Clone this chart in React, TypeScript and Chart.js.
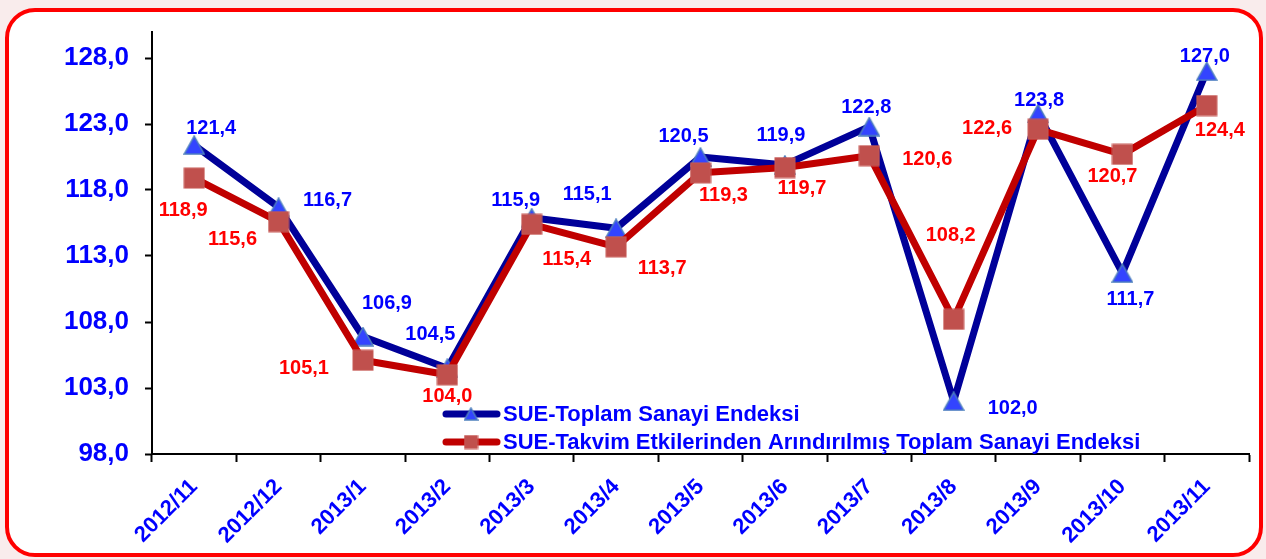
import React, { useEffect, useRef } from 'react';
import { Chart, registerables } from 'chart.js';

Chart.register(...registerables);

// ---------- data ----------
const categories = [
  '2012/11', '2012/12', '2013/1', '2013/2', '2013/3', '2013/4', '2013/5',
  '2013/6', '2013/7', '2013/8', '2013/9', '2013/10', '2013/11',
];
const toplamValues = [121.4, 116.7, 106.9, 104.5, 115.9, 115.1, 120.5, 119.9, 122.8, 102.0, 123.8, 111.7, 127.0];
const takvimValues = [118.9, 115.6, 105.1, 104.0, 115.4, 113.7, 119.3, 119.7, 120.6, 108.2, 122.6, 120.7, 124.4];
const yTickValues = [98, 103, 108, 113, 118, 123, 128];
const seriesNames = [
  'SUE-Toplam Sanayi Endeksi',
  'SUE-Takvim Etkilerinden Arındırılmış Toplam Sanayi Endeksi',
];

// ---------- label placement (style) ----------
const toplamLabelOffsets = [
  [17, -17], [49, -7], [24, -33], [-17, -34], [-16, -17], [-29, -34], [-17, -21],
  [-4, -29], [-3, -19], [59, 7], [1, -13], [8, 26], [-2, -15],
];
const takvimLabelOffsets = [
  [-11, 32], [-46, 18], [-59, 8], [0, 22], [35, 35], [46, 22], [23, 23],
  [17, 21], [58, 4], [-3, -84], [-51, -1], [-10, 22], [13, 25],
];

const FONT = '"Liberation Sans", Arial, sans-serif';
const BLUE_LINE = '#000099';
const RED_LINE = '#c00000';
const BLUE_TEXT = '#0000ff';
const RED_TEXT = '#ff0000';

function makeTriangle(w: number, h: number): HTMLCanvasElement {
  const c = document.createElement('canvas');
  c.width = w + 2;
  c.height = h + 2;
  const ctx = c.getContext('2d')!;
  ctx.beginPath();
  ctx.moveTo(c.width / 2, 1);
  ctx.lineTo(w + 1, h + 1);
  ctx.lineTo(1, h + 1);
  ctx.closePath();
  ctx.fillStyle = '#3344ff';
  ctx.fill();
  ctx.strokeStyle = '#4f81bd';
  ctx.lineWidth = 1.5;
  ctx.stroke();
  return c;
}

function makeSquare(s: number): HTMLCanvasElement {
  const c = document.createElement('canvas');
  c.width = s + 2;
  c.height = s + 2;
  const ctx = c.getContext('2d')!;
  ctx.fillStyle = '#c0504d';
  ctx.fillRect(1, 1, s, s);
  ctx.strokeStyle = '#c65a57';
  ctx.lineWidth = 1;
  ctx.strokeRect(1, 1, s, s);
  return c;
}

const fmt = (v: number) => v.toFixed(1).replace('.', ',');

export default function App() {
  const canvasRef = useRef<HTMLCanvasElement | null>(null);

  useEffect(() => {
    const canvas = canvasRef.current;
    if (!canvas) return;

    const tri = makeTriangle(20, 18);
    const sq = makeSquare(20);
    const legendTri = makeTriangle(13, 12);
    const legendSq = makeSquare(13);
    const offsets = [toplamLabelOffsets, takvimLabelOffsets];
    const labelColors = [BLUE_TEXT, RED_TEXT];

    const labelPlugin = {
      id: 'valueLabels',
      afterDatasetsDraw(chart: any) {
        const ctx = chart.ctx;
        ctx.save();
        ctx.font = `bold 20px ${FONT}`;
        ctx.textAlign = 'center';
        ctx.textBaseline = 'middle';
        chart.data.datasets.forEach((ds: any, di: number) => {
          const meta = chart.getDatasetMeta(di);
          ctx.fillStyle = labelColors[di];
          meta.data.forEach((pt: any, i: number) => {
            const [dx, dy] = offsets[di][i];
            ctx.fillText(fmt(ds.data[i]), pt.x + dx, pt.y + dy);
          });
        });
        ctx.restore();
      },
    };

    const legendPlugin = {
      id: 'insideLegend',
      afterDraw(chart: any) {
        const ctx = chart.ctx;
        const items = [
          { color: BLUE_LINE, marker: legendTri, y: 414 },
          { color: RED_LINE, marker: legendSq, y: 442 },
        ];
        ctx.save();
        items.forEach((it, i) => {
          ctx.beginPath();
          ctx.lineCap = 'round';
          ctx.lineWidth = 7;
          ctx.strokeStyle = it.color;
          ctx.moveTo(446, it.y);
          ctx.lineTo(497, it.y);
          ctx.stroke();
          ctx.drawImage(it.marker, 471 - it.marker.width / 2, it.y - it.marker.height / 2);
          ctx.font = `bold 22px ${FONT}`;
          ctx.fillStyle = BLUE_TEXT;
          ctx.textAlign = 'left';
          ctx.textBaseline = 'middle';
          ctx.fillText(seriesNames[i], 503, it.y + 1);
        });
        ctx.restore();
      },
    };

    const chart = new Chart(canvas, {
      type: 'line',
      data: {
        labels: categories,
        datasets: [
          {
            label: seriesNames[0],
            data: toplamValues,
            borderColor: BLUE_LINE,
            backgroundColor: BLUE_LINE,
            borderWidth: 7,
            borderJoinStyle: 'round',
            borderCapStyle: 'round',
            pointStyle: tri as any,
            pointRadius: 10,
            tension: 0,
            order: 2,
          },
          {
            label: seriesNames[1],
            data: takvimValues,
            borderColor: RED_LINE,
            backgroundColor: RED_LINE,
            borderWidth: 7,
            borderJoinStyle: 'round',
            borderCapStyle: 'round',
            pointStyle: sq as any,
            pointRadius: 10,
            tension: 0,
            order: 1,
          },
        ],
      },
      options: {
        responsive: false,
        animation: false,
        layout: { padding: { left: 0, top: 27, right: 9, bottom: 0 } },
        plugins: {
          legend: { display: false },
          tooltip: { enabled: false },
        },
        scales: {
          x: {
            type: 'category',
            offset: true,
            afterFit(scale: any) {
              scale.height = 105;
            },
            grid: {
              offset: true,
              drawOnChartArea: false,
              drawTicks: true,
              tickLength: 8,
              tickWidth: 2,
              tickColor: '#000',
            },
            border: { display: true, color: '#000', width: 2 },
            ticks: {
              autoSkip: false,
              minRotation: 45,
              maxRotation: 45,
              padding: 12,
              color: BLUE_TEXT,
              font: { family: FONT, size: 22, weight: 'bold' },
            },
          },
          y: {
            min: 98,
            max: 130,
            afterFit(scale: any) {
              scale.width = 152;
            },
            afterBuildTicks(scale: any) {
              scale.ticks = yTickValues.map((v) => ({ value: v }));
            },
            grid: {
              drawOnChartArea: false,
              drawTicks: true,
              tickLength: 7,
              tickWidth: 2,
              tickColor: '#000',
            },
            border: { display: true, color: '#000', width: 2 },
            ticks: {
              padding: 16,
              color: BLUE_TEXT,
              font: { family: FONT, size: 26, weight: 'bold' },
              callback: (v: any) => fmt(Number(v)),
            },
          },
        },
      },
      plugins: [labelPlugin, legendPlugin],
    });

    return () => chart.destroy();
  }, []);

  return (
    <div
      style={{
        position: 'fixed',
        left: 0,
        top: 0,
        width: 1266,
        height: 559,
        background: '#f9ecec',
        overflow: 'hidden',
      }}
    >
      <div
        style={{
          position: 'absolute',
          left: 5,
          top: 8,
          width: 1250,
          height: 541,
          border: '4px solid #ff0000',
          borderRadius: 30,
          background: '#ffffff',
        }}
      />
      <canvas
        ref={canvasRef}
        width={1266}
        height={559}
        style={{ position: 'absolute', left: 0, top: 0, width: 1266, height: 559 }}
      />
    </div>
  );
}
